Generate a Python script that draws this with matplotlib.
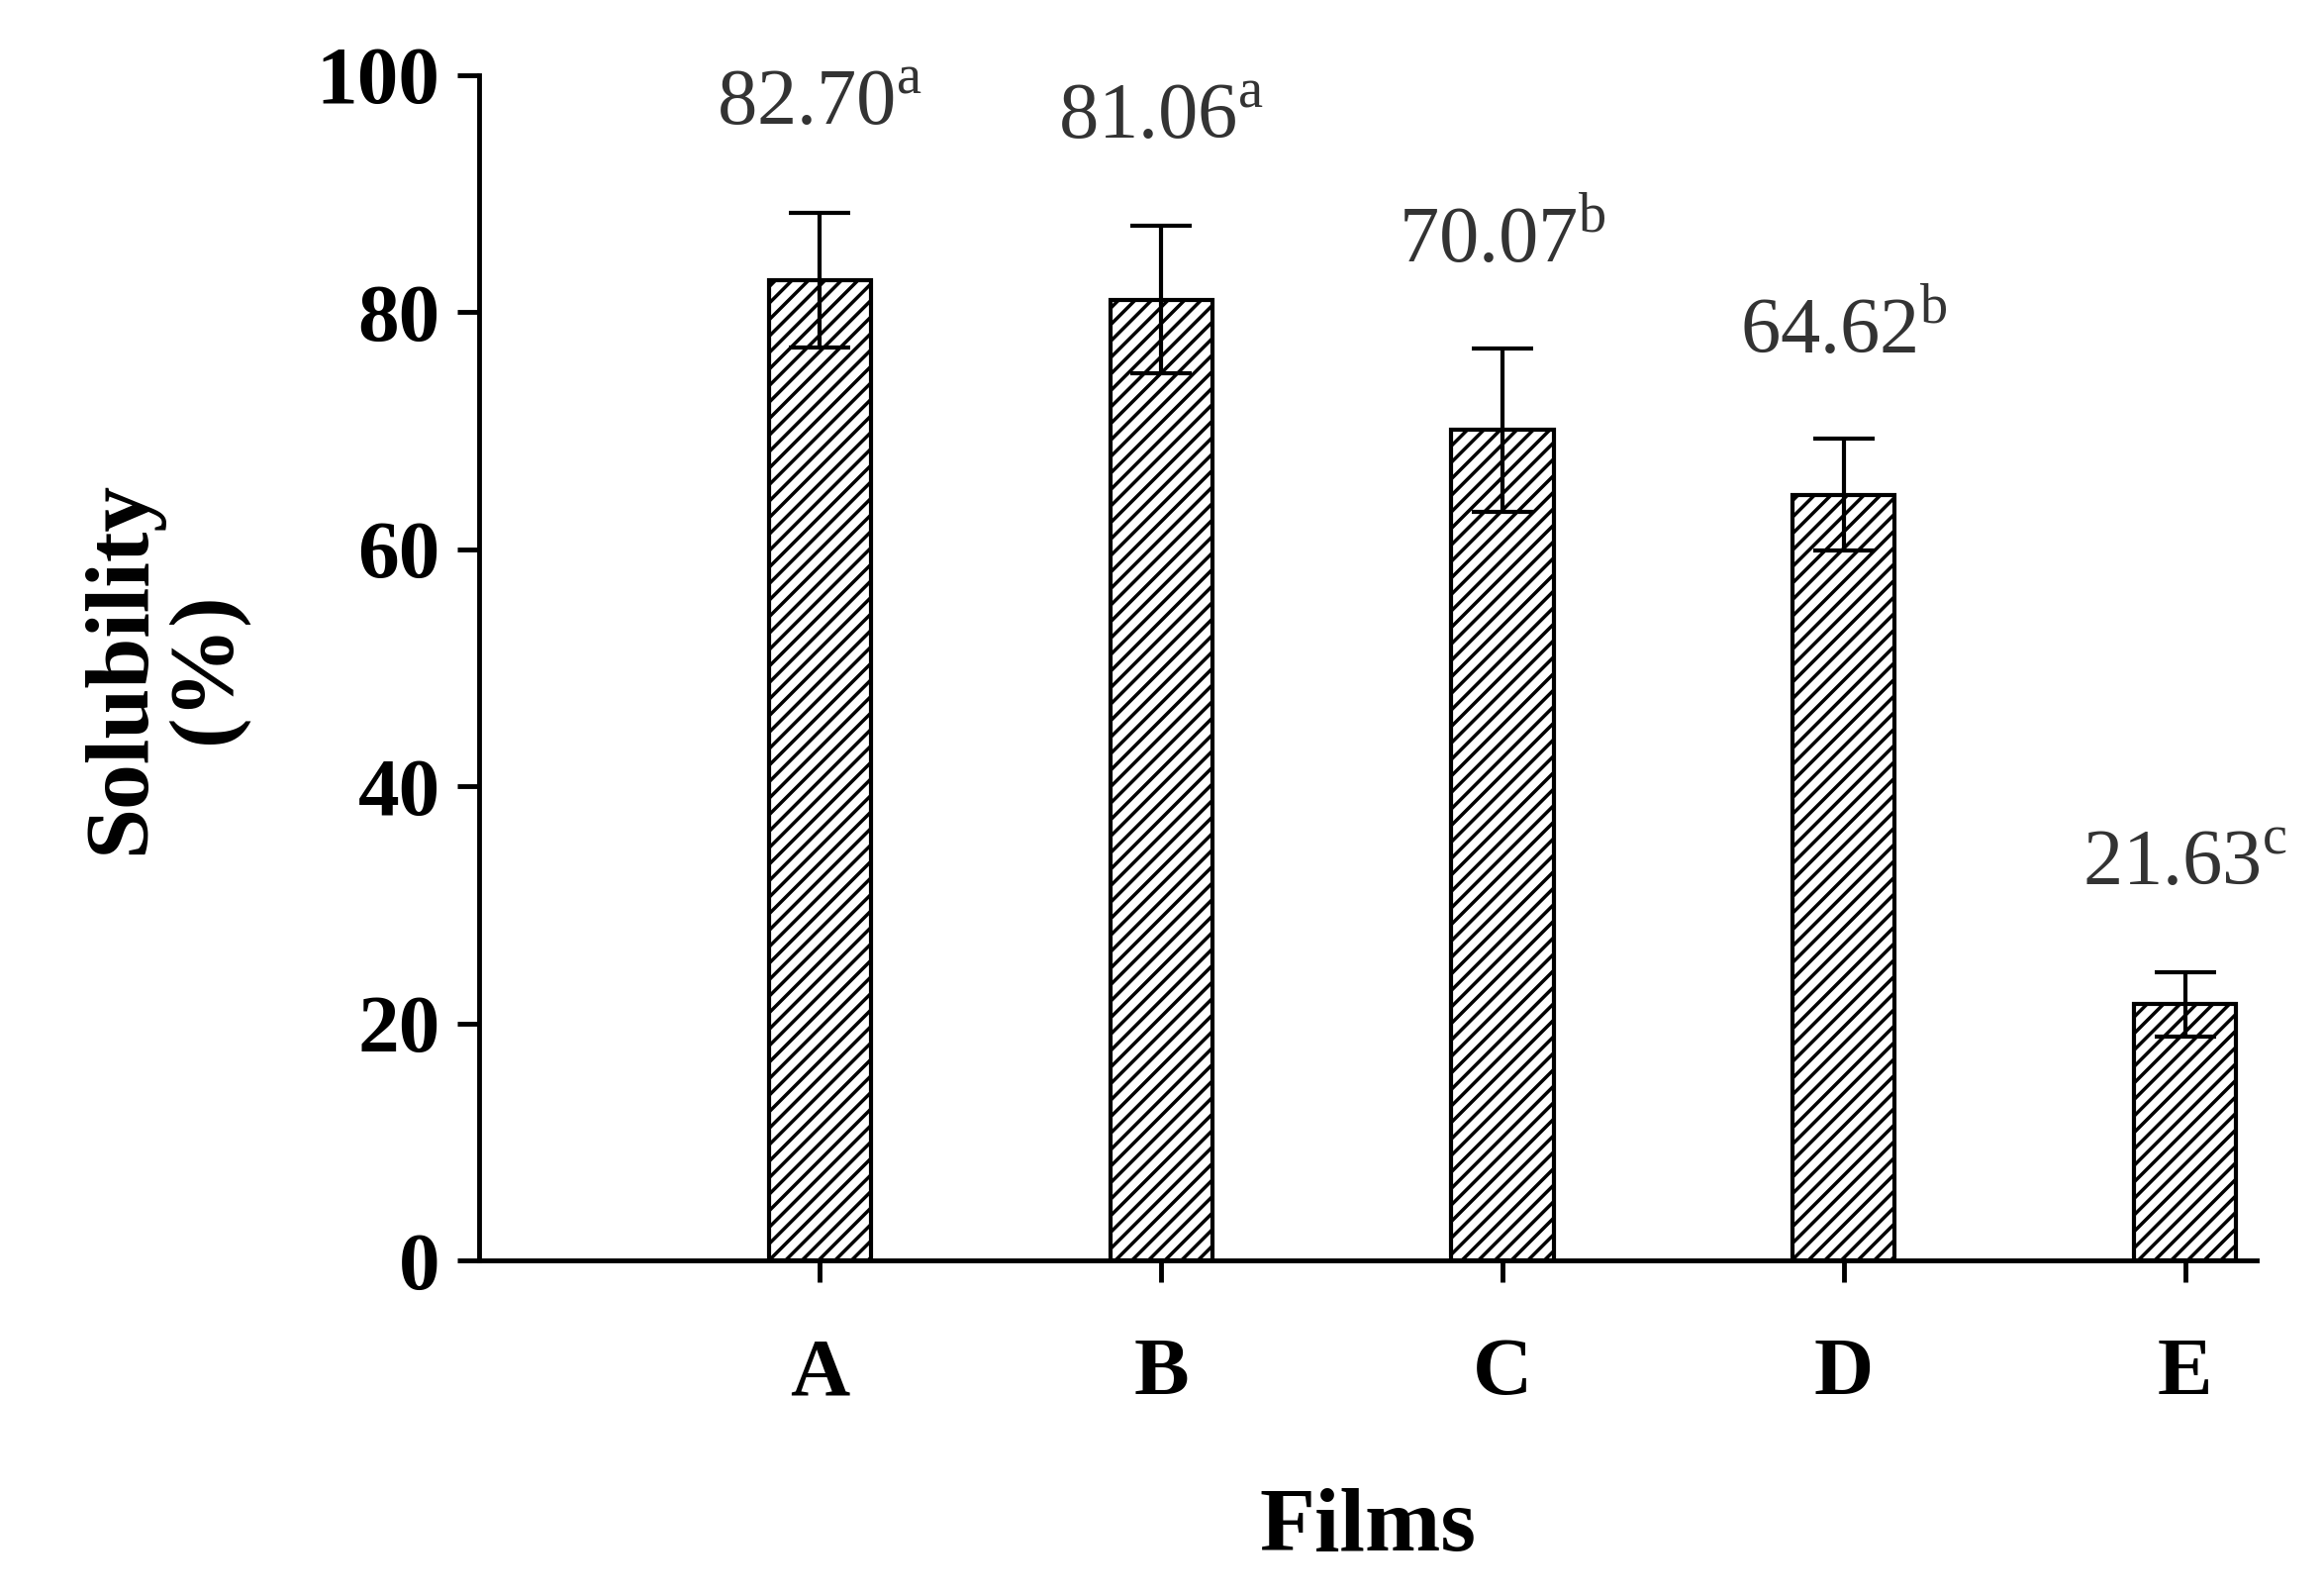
import matplotlib
matplotlib.use("Agg")
import matplotlib.pyplot as plt

categories = ["A", "B", "C", "D", "E"]
values = [82.70, 81.06, 70.07, 64.62, 21.63]
errors = [5.7, 6.2, 6.9, 4.7, 2.7]
letters = ["a", "a", "b", "b", "c"]

plt.rcParams['font.family'] = ['Liberation Serif', 'DejaVu Serif']
plt.rcParams['mathtext.fontset'] = 'custom'
plt.rcParams['mathtext.rm'] = 'Liberation Serif'
plt.rcParams['hatch.linewidth'] = 2.5

fig = plt.figure(figsize=(23.48, 16.12), dpi=100)
ax = fig.add_axes([0.206, 0.210, 0.765, 0.743])
x = list(range(len(categories)))
ax.bar(x, values, width=0.3, color='white', edgecolor='black', hatch='//', linewidth=3,
       yerr=errors, capsize=22, error_kw=dict(elinewidth=3, capthick=3, ecolor='black'))
for xi, v, e, l in zip(x, values, errors, letters):
    ax.text(xi, v + e + 9.0, f"{v:.2f}" + r"$^{\mathrm{" + l + "}}$", ha='center', va='center',
            fontsize=58, color='#333333')
ax.set_xlim(-1.0, 4.21)
ax.set_ylim(0, 100)
ax.set_yticks([0, 20, 40, 60, 80, 100])
ax.set_xticks(x)
ax.set_xticklabels(categories)
for s in ['top', 'right']:
    ax.spines[s].set_visible(False)
for s in ['left', 'bottom']:
    ax.spines[s].set_linewidth(3.5)
ax.tick_params(axis='both', width=3.5, length=16, labelsize=60, pad=12)
ax.tick_params(axis='x', pad=40)
for t in ax.get_xticklabels() + ax.get_yticklabels():
    t.set_fontweight('bold')
ax.set_ylabel("Solubility\n(%)", fontsize=66, fontweight='bold', labelpad=50, linespacing=1.05)
ax.set_xlabel("Films", fontsize=66, fontweight='bold', labelpad=55)
fig.savefig("out.png", dpi=100)
